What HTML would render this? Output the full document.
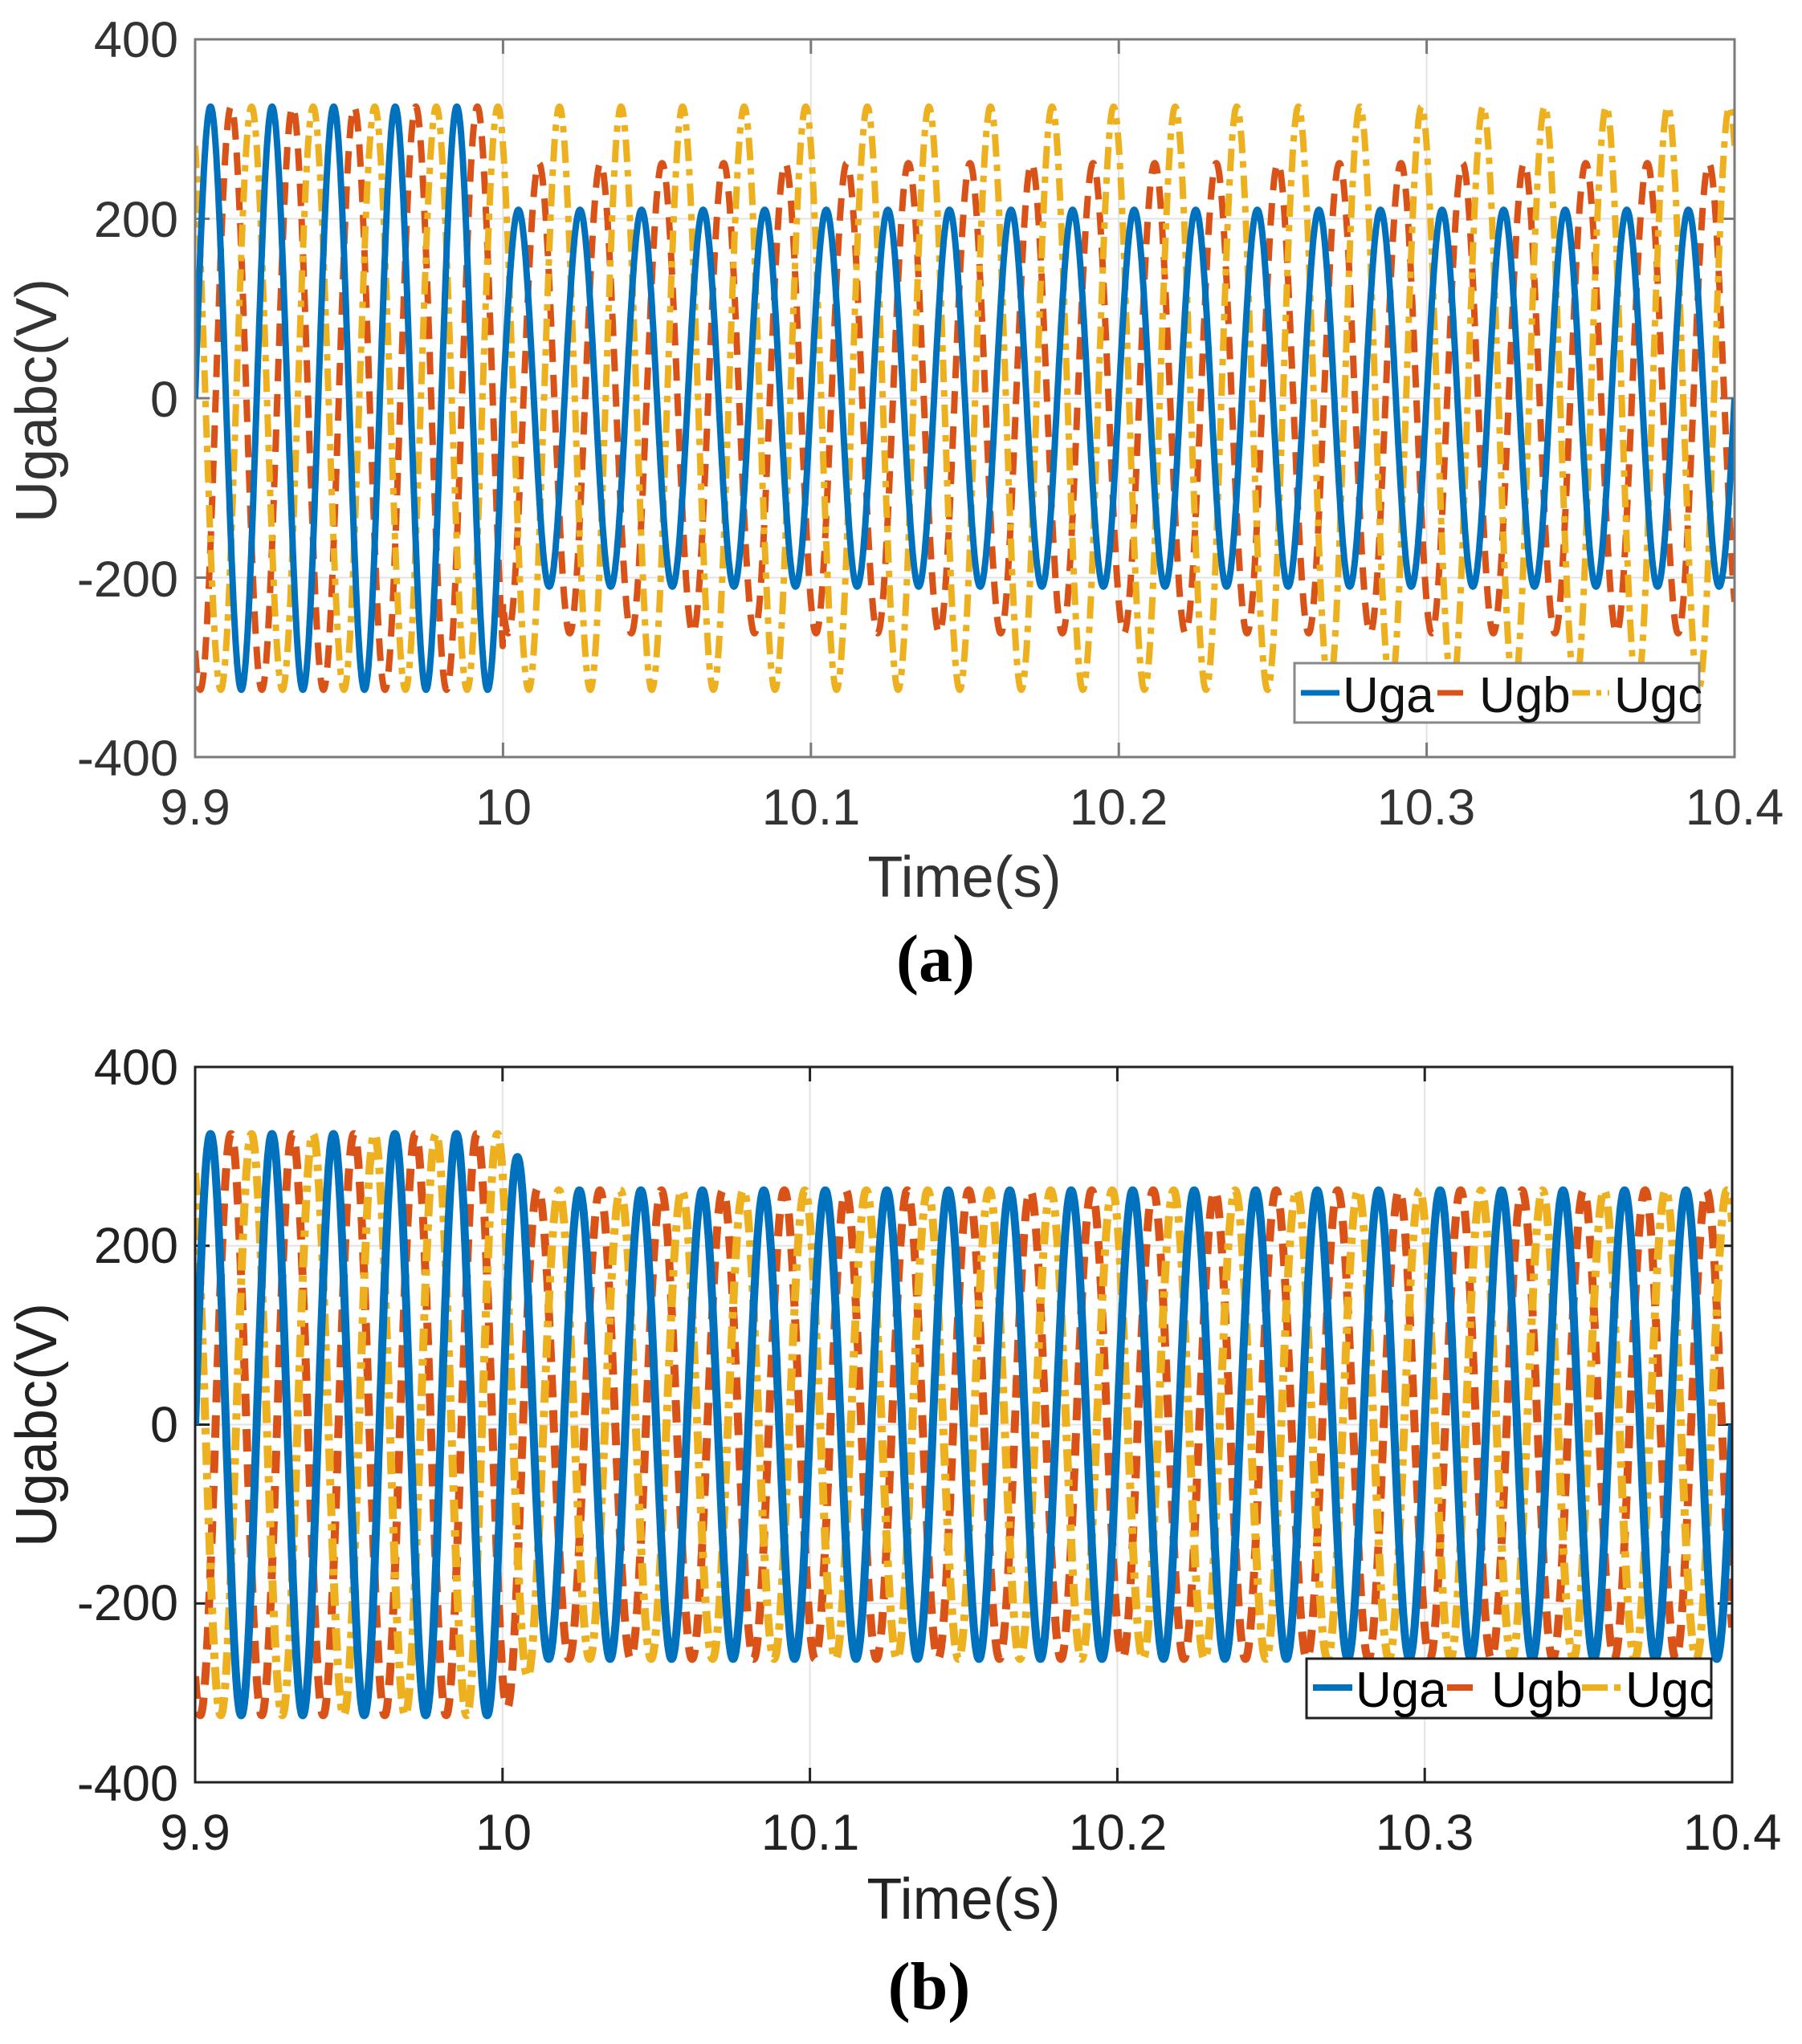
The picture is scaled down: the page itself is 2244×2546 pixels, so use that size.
<!DOCTYPE html>
<html><head><meta charset="utf-8">
<style>
html,body{margin:0;padding:0;background:#fff;}
svg{display:block;}
text{font-family:"Liberation Sans",Arial,sans-serif;}
</style></head>
<body>
<svg id="s" width="2244" height="2546" viewBox="0 0 2244 2546" xmlns="http://www.w3.org/2000/svg">
<defs>
<clipPath id="ca"><rect x="243" y="49" width="1917" height="894"/></clipPath>
<clipPath id="cb"><rect x="243" y="1329" width="1914" height="891"/></clipPath>
</defs>
<!-- Plot A -->
<g id="ga"></g>
<rect x="243" y="49" width="1917" height="894" fill="none" stroke="#7a7a7a" stroke-width="3"/>
<g font-size="63" fill="#333" text-anchor="end">
<text x="222" y="71">400</text><text x="222" y="295">200</text><text x="222" y="519">0</text><text x="222" y="743">-200</text><text x="222" y="966">-400</text>
</g>
<g font-size="63" fill="#333" text-anchor="middle">
<text x="243" y="1027">9.9</text><text x="627" y="1027">10</text><text x="1010" y="1027">10.1</text><text x="1393" y="1027">10.2</text><text x="1776" y="1027">10.3</text><text x="2160" y="1027">10.4</text>
</g>
<text x="1201" y="1117" font-size="72" fill="#333" text-anchor="middle">Time(s)</text>
<text transform="translate(70,499) rotate(-90)" font-size="72" fill="#333" text-anchor="middle">Ugabc(V)</text>
<text x="1165" y="1222" font-size="84" font-weight="bold" text-anchor="middle" style="font-family:'Liberation Serif',serif">(a)</text>
<g>
<rect x="1612" y="826" width="504" height="74" fill="#fff" stroke="#888" stroke-width="3"/>
<line x1="1620" y1="863" x2="1668" y2="863" stroke="#0072BD" stroke-width="7"/>
<text x="1672" y="887" font-size="62" fill="#111">Uga</text>
<line x1="1790" y1="863" x2="1822" y2="863" stroke="#D95319" stroke-width="7"/>
<text x="1842" y="887" font-size="62" fill="#111">Ugb</text>
<line x1="1958" y1="863" x2="2004" y2="863" stroke="#EDB120" stroke-width="7" stroke-dasharray="22 8 6 8"/>
<text x="2010" y="887" font-size="62" fill="#111">Ugc</text>
</g>
<!-- Plot B -->
<g id="gb"></g>
<rect x="243" y="1329" width="1914" height="891" fill="none" stroke="#222" stroke-width="3"/>
<g font-size="63" fill="#222" text-anchor="end">
<text x="222" y="1351">400</text><text x="222" y="1573">200</text><text x="222" y="1796">0</text><text x="222" y="2018">-200</text><text x="222" y="2243">-400</text>
</g>
<g font-size="63" fill="#222" text-anchor="middle">
<text x="243" y="2304">9.9</text><text x="627" y="2304">10</text><text x="1009" y="2304">10.1</text><text x="1392" y="2304">10.2</text><text x="1774" y="2304">10.3</text><text x="2157" y="2304">10.4</text>
</g>
<text x="1200" y="2390" font-size="72" fill="#222" text-anchor="middle">Time(s)</text>
<text transform="translate(70,1775) rotate(-90)" font-size="72" fill="#222" text-anchor="middle">Ugabc(V)</text>
<text x="1157" y="2502" font-size="84" font-weight="bold" text-anchor="middle" style="font-family:'Liberation Serif',serif">(b)</text>
<g>
<rect x="1627" y="2066" width="504" height="74" fill="#fff" stroke="#222" stroke-width="3"/>
<line x1="1635" y1="2102" x2="1684" y2="2102" stroke="#0072BD" stroke-width="8"/>
<text x="1688" y="2126" font-size="62" fill="#000">Uga</text>
<line x1="1802" y1="2102" x2="1834" y2="2102" stroke="#D95319" stroke-width="8"/>
<text x="1857" y="2126" font-size="62" fill="#000">Ugb</text>
<line x1="1970" y1="2102" x2="2002" y2="2102" stroke="#EDB120" stroke-width="8"/>
<line x1="2010" y1="2102" x2="2018" y2="2102" stroke="#EDB120" stroke-width="8"/>
<text x="2024" y="2126" font-size="62" fill="#000">Ugc</text>
</g>
</svg>
<script>
(function(){
var NS="http://www.w3.org/2000/svg";
function el(p,tag,attrs){var e=document.createElementNS(NS,tag);for(var k in attrs)e.setAttribute(k,attrs[k]);p.appendChild(e);return e;}
function build(gid,clip,L,R,T,B,amps,axisCol,lw){
  var g=document.getElementById(gid);
  for(var i=1;i<5;i++){var x=L+(R-L)*i/5;el(g,"line",{x1:x,y1:T,x2:x,y2:B,stroke:"#e3e3e3","stroke-width":2});
    el(g,"line",{x1:x,y1:B,x2:x,y2:B-18,stroke:axisCol,"stroke-width":3});el(g,"line",{x1:x,y1:T,x2:x,y2:T+18,stroke:axisCol,"stroke-width":3});}
  for(var j=1;j<4;j++){var y=T+(B-T)*j/4;el(g,"line",{x1:L,y1:y,x2:R,y2:y,stroke:"#e3e3e3","stroke-width":2});
    el(g,"line",{x1:L,y1:y,x2:L+18,y2:y,stroke:axisCol,"stroke-width":3});el(g,"line",{x1:R,y1:y,x2:R-18,y2:y,stroke:axisCol,"stroke-width":3});}
  var cg=el(g,"g",{"clip-path":"url(#"+clip+")"});
  var ph=[0,-2*Math.PI/3,2*Math.PI/3];
  var cols=["#0072BD","#D95319","#EDB120"];
  var dash=["none","28 16","28 10 8 10"];
  var paths=[];
  for(var k=0;k<3;k++){
    var d="";
    for(var n=0;n<=5000;n++){
      var t=n*0.0001;
      var A=amps(k,t);
      var v=A*Math.sin(2*Math.PI*50*t+ph[k]);
      var x=L+(R-L)*t/0.5, y=T+(B-T)*(400-v)/800;
      d+=(n?"L":"M")+x.toFixed(1)+" "+y.toFixed(1);
    }
    paths.push({d:d,c:cols[k],da:dash[k]});
  }
  [1,2,0].forEach(function(k){var p=paths[k];
    var a={d:p.d,fill:"none",stroke:p.c,"stroke-width":lw,"stroke-linejoin":"round"};
    if(p.da!="none")a["stroke-dasharray"]=p.da;
    el(cg,"path",a);});
}
build("ga","ca",243,2160,49,943,function(k,t){if(t<0.1)return 325;return [210,262,325][k];},"#7a7a7a",8);
build("gb","cb",243,2157,1329,2220,function(k,t){if(t<0.1)return 325;var f=Math.min(1,(t-0.1)/0.012);return 325+(262-325)*f;},"#222",10);
})();
</script>
</body></html>
